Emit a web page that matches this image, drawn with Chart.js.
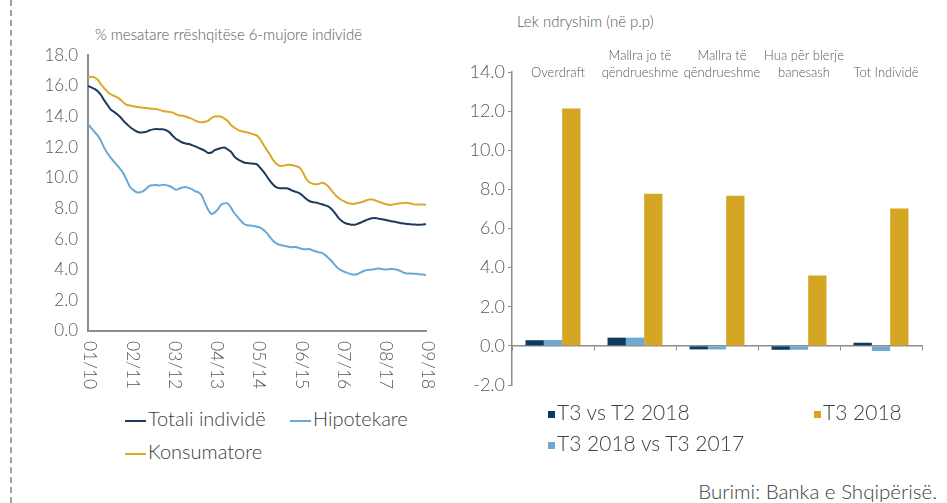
<!DOCTYPE html>
<html>
<head>
<meta charset="utf-8">
<script src="https://cdn.jsdelivr.net/npm/chart.js@4/dist/chart.umd.min.js"></script>
<style>
  body { margin: 0; width: 947px; height: 503px; position: relative; background: #fff; overflow: hidden;
         font-family: Lato, "Open Sans", sans-serif; color: #595959; }
  .dash { position: absolute; left: 10px; top: 0; height: 503px; border-left: 2px dashed #a0a0a0; }
  .t { position: absolute; white-space: nowrap; font-weight: 300; }
  #cL { position: absolute; left: 20px; top: 35px; }
  #cR { position: absolute; left: 460px; top: 0; }
  .lg { position: absolute; white-space: nowrap; font-size: 20px; font-weight: 300; color: #404040; line-height: 24px; }
  .ln { display: inline-block; width: 21px; height: 2px; vertical-align: middle; margin-right: 2px; }
  .sq { display: inline-block; width: 7px; height: 7px; margin-right: 2px; vertical-align: middle; }
</style>
</head>
<body>
<div class="dash"></div>
<div class="t" style="left:95px;top:25px;font-size:15px;">% mesatare rrëshqitëse 6-mujore individë</div>
<div class="t" style="left:517px;top:12px;font-size:15px;">Lek ndryshim (në p.p)</div>
<canvas id="cL" width="425" height="361"></canvas>
<canvas id="cR" width="480" height="400"></canvas>

<div class="lg" style="left:125px;top:406px;"><span class="ln" style="background:#1b3a5c"></span>Totali individë</div>
<div class="lg" style="left:290px;top:406px;"><span class="ln" style="background:#6aa8d6"></span>Hipotekare</div>
<div class="lg" style="left:125px;top:439px;"><span class="ln" style="background:#dca82a"></span>Konsumatore</div>

<div class="lg" style="left:548px;top:400px;font-size:21px;"><span class="sq" style="background:#0e3a5e"></span>T3 vs T2 2018</div>
<div class="lg" style="left:814px;top:400px;font-size:21px;"><span class="sq" style="background:#d4a624"></span>T3 2018</div>
<div class="lg" style="left:548px;top:431px;font-size:21px;"><span class="sq" style="background:#6fa8d3"></span>T3 2018 vs T3 2017</div>

<div class="lg" style="right:10px;top:479px;font-size:20.5px;">Burimi: Banka e Shqipërisë.</div>

<script>
// --- left chart data (monthly, 01/2010 - 09/2018) ---
const months = [];
for (let y = 10; y <= 18; y++) {
  for (let m = 1; m <= 12; m++) {
    if (y === 18 && m > 9) break;
    months.push(String(m).padStart(2, "0") + "/" + y);
  }
}
const tickLabels = ["01/10", "02/11", "03/12", "04/13", "05/14", "06/15", "07/16", "08/17", "09/18"];

const totali = [
  16.0, 15.9, 15.8, 15.65, 15.4, 15.05, 14.75, 14.45, 14.3, 14.15, 13.95, 13.7,
  13.5, 13.3, 13.15, 13.02, 12.95, 12.97, 13.0, 13.1, 13.16, 13.18, 13.17, 13.16,
  13.1, 12.98, 12.75, 12.55, 12.42, 12.3, 12.24, 12.2, 12.13, 12.05, 11.95, 11.86,
  11.75, 11.62, 11.65, 11.8, 11.88, 11.95, 11.97, 11.85, 11.7, 11.4, 11.22, 11.1,
  11.0, 10.96, 10.93, 10.92, 10.88, 10.65, 10.4, 10.1, 9.8, 9.55, 9.38, 9.32,
  9.32, 9.31, 9.25, 9.15, 9.08, 9.0, 8.85, 8.65, 8.5, 8.42, 8.38, 8.33,
  8.27, 8.2, 8.12, 7.95, 7.7, 7.4, 7.2, 7.06, 6.98, 6.94, 6.93, 7.0,
  7.08, 7.18, 7.27, 7.34, 7.37, 7.35, 7.31, 7.28, 7.23, 7.18, 7.14, 7.1,
  7.05, 7.02, 6.99, 6.97, 6.95, 6.94, 6.93, 6.95, 6.97
];
const hipotekare = [
  13.5, 13.25, 13.0, 12.75, 12.4, 11.95, 11.6, 11.3, 11.05, 10.8, 10.55, 10.25,
  9.8, 9.38, 9.2, 9.05, 9.05, 9.13, 9.3, 9.48, 9.52, 9.53, 9.5, 9.54,
  9.52, 9.46, 9.35, 9.22, 9.28, 9.36, 9.4, 9.33, 9.26, 9.12, 9.05, 8.85,
  8.35, 7.9, 7.63, 7.74, 7.95, 8.25, 8.33, 8.32, 8.05, 7.7, 7.45, 7.2,
  6.98, 6.9, 6.88, 6.85, 6.8, 6.75, 6.6, 6.4, 6.12, 5.88, 5.72, 5.62,
  5.58, 5.53, 5.48, 5.47, 5.48, 5.42, 5.35, 5.33, 5.35, 5.28, 5.2, 5.13,
  5.1, 4.95, 4.77, 4.55, 4.3, 4.08, 3.95, 3.85, 3.78, 3.7, 3.68, 3.72,
  3.83, 3.93, 3.98, 4.0, 4.03, 4.08, 4.07, 4.02, 4.01, 4.04, 4.05, 4.0,
  3.93, 3.82, 3.76, 3.75, 3.74, 3.73, 3.7, 3.68, 3.66
];
const konsumatore = [
  16.5, 16.6, 16.55, 16.4, 16.1, 15.85, 15.62, 15.45, 15.35, 15.25, 15.1, 14.9,
  14.75, 14.72, 14.67, 14.62, 14.6, 14.57, 14.55, 14.52, 14.5, 14.48, 14.43, 14.36,
  14.32, 14.3, 14.27, 14.15, 14.07, 14.05, 14.0, 13.92, 13.85, 13.72, 13.65, 13.62,
  13.66, 13.72, 13.9, 14.0, 14.02, 13.98, 13.86, 13.7, 13.45, 13.28, 13.15, 13.05,
  13.0, 12.96, 12.9, 12.83, 12.75, 12.5, 12.15, 11.82, 11.5, 11.15, 10.9, 10.78,
  10.78, 10.84, 10.85, 10.82, 10.75, 10.68, 10.4, 9.98, 9.72, 9.62, 9.58, 9.6,
  9.67, 9.6, 9.42, 9.15, 8.9, 8.7, 8.55, 8.45, 8.35, 8.3, 8.3, 8.35,
  8.4, 8.47, 8.55, 8.6, 8.55, 8.47, 8.4, 8.32, 8.25, 8.23, 8.26, 8.3,
  8.33, 8.35, 8.37, 8.34, 8.28, 8.25, 8.26, 8.25, 8.24
];

// --- right chart data ---
const categories = [
  "Overdraft",
  ["Mallra jo të", "qëndrueshme"],
  ["Mallra të", "qëndrueshme"],
  ["Hua për blerje", "banesash"],
  "Tot Individë"
];
const t3vsT2 = [0.29, 0.42, -0.18, -0.2, 0.16];
const t3vsT3 = [0.3, 0.42, -0.18, -0.2, -0.26];
const t3 = [12.14, 7.77, 7.67, 3.6, 7.02];

const FONT = "Lato, 'Open Sans', sans-serif";
const GREY = "#595959";
const AXIS = "#8c8c8c";

// rotated month labels (reading downward), placed from the x scale
const monthTicks = {
  id: "monthTicks",
  afterDraw(chart) {
    const { ctx } = chart;
    const x = chart.scales.x;
    ctx.save();
    ctx.font = "300 17.5px " + FONT;
    ctx.fillStyle = GREY;
    ctx.textAlign = "left";
    ctx.textBaseline = "middle";
    for (const lab of tickLabels) {
      const px = x.getPixelForValue(months.indexOf(lab));
      ctx.save();
      ctx.translate(px + 2, x.top + 10);
      ctx.rotate(Math.PI / 2);
      ctx.fillText(lab, 0, 0);
      ctx.restore();
    }
    ctx.restore();
  }
};

// category names above the bars, last line level with the top tick
const catLabels = {
  id: "catLabels",
  afterDraw(chart) {
    const { ctx } = chart;
    const x = chart.scales.x;
    const y = chart.scales.y;
    const base = y.getPixelForValue(y.max) + 1;
    ctx.save();
    ctx.font = "300 13px " + FONT;
    ctx.fillStyle = GREY;
    ctx.textAlign = "center";
    ctx.textBaseline = "middle";
    categories.forEach((c, i) => {
      const lines = Array.isArray(c) ? c : [c];
      const px = x.getPixelForValue(i) + 5;
      lines.forEach((l, k) => {
        ctx.fillText(l, px, base - (lines.length - 1 - k) * 17);
      });
    });
    ctx.restore();
  }
};

new Chart(document.getElementById("cL"), {
  type: "line",
  data: {
    labels: months,
    datasets: [
      { label: "Totali individë", data: totali, borderColor: "#1b3a5c" },
      { label: "Hipotekare", data: hipotekare, borderColor: "#6aa8d6" },
      { label: "Konsumatore", data: konsumatore, borderColor: "#dca82a" }
    ]
  },
  options: {
    responsive: false,
    animation: false,
    layout: { padding: { left: 20, right: 19, top: 10, bottom: 65 } },
    elements: { point: { radius: 0 }, line: { borderWidth: 2, tension: 0.3 } },
    plugins: { legend: { display: false }, tooltip: { enabled: false } },
    scales: {
      x: {
        grid: { display: false },
        border: { color: AXIS, width: 2 },
        ticks: { display: false },
        afterFit: s => { s.height = 0; }
      },
      y: {
        min: 0,
        max: 18,
        grid: { display: false, drawTicks: false },
        border: { color: AXIS, width: 2 },
        ticks: {
          stepSize: 2,
          padding: 10,
          color: GREY,
          font: { family: FONT, size: 17, weight: "300" },
          callback: v => v.toFixed(1)
        },
        afterFit: s => { s.width = 48; }
      }
    }
  },
  plugins: [monthTicks]
});

new Chart(document.getElementById("cR"), {
  type: "bar",
  data: {
    labels: categories,
    datasets: [
      { label: "T3 vs T2 2018", data: t3vsT2, backgroundColor: "#0e3a5e" },
      { label: "T3 2018 vs T3 2017", data: t3vsT3, backgroundColor: "#6fa8d3" },
      { label: "T3 2018", data: t3, backgroundColor: "#d4a624" }
    ]
  },
  options: {
    responsive: false,
    animation: false,
    categoryPercentage: 0.67,
    barPercentage: 1.0,
    layout: { padding: { left: 5, right: 18, top: 72, bottom: 15 } },
    plugins: { legend: { display: false }, tooltip: { enabled: false } },
    scales: {
      x: {
        position: { y: 0 },
        grid: { display: true, drawOnChartArea: false, drawTicks: true, tickLength: 4, offset: true, color: AXIS },
        border: { color: AXIS, width: 1.5 },
        ticks: { display: false },
        afterFit: s => { s.height = 0; }
      },
      y: {
        min: -2,
        max: 14,
        grid: { drawOnChartArea: false, drawTicks: true, tickLength: 4, color: AXIS },
        border: { color: AXIS, width: 1.5 },
        ticks: {
          stepSize: 2,
          padding: 3,
          color: GREY,
          font: { family: FONT, size: 18, weight: "300" },
          callback: v => v.toFixed(1)
        },
        afterFit: s => { s.width = 47; }
      }
    }
  },
  plugins: [catLabels]
});
</script>
</body>
</html>
